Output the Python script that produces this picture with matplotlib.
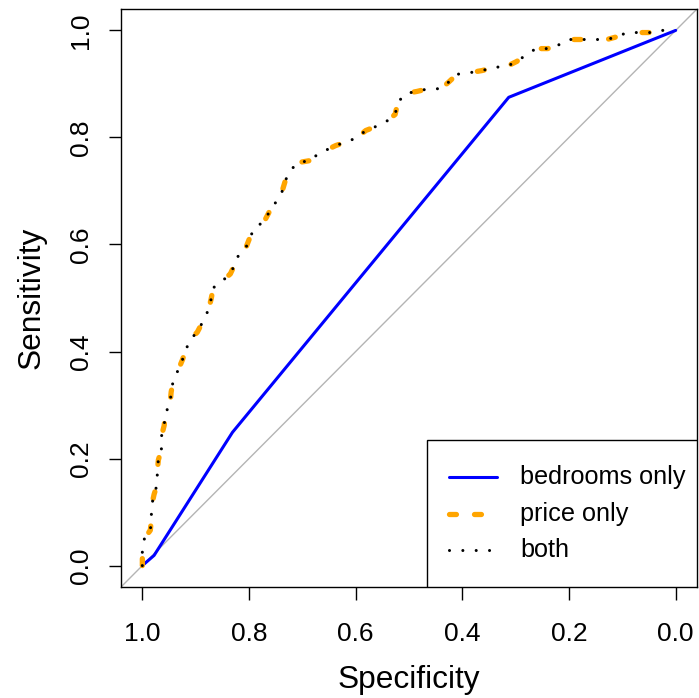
import matplotlib
matplotlib.use("Agg")
import matplotlib.pyplot as plt
from matplotlib.patches import Rectangle

plt.rcParams['font.family'] = ['Liberation Sans', 'DejaVu Sans']
plt.rcParams['lines.scale_dashes'] = False

# ROC curves (specificity, sensitivity)
bed_spec = [1.000, 0.978, 0.831, 0.313, 0.0]
bed_sens = [0.000, 0.019, 0.249, 0.875, 1.0]

price_spec = [1.000, 1.000, 0.996, 0.985, 0.983, 0.983, 0.978, 0.972, 0.972, 0.970,
              0.964, 0.964, 0.959, 0.957, 0.948, 0.946, 0.942, 0.933, 0.925, 0.918,
              0.910, 0.897, 0.886, 0.876, 0.871, 0.867, 0.850, 0.835, 0.828, 0.820,
              0.805, 0.798, 0.788, 0.772, 0.762, 0.749, 0.738, 0.732, 0.723, 0.708,
              0.684, 0.670, 0.654, 0.637, 0.616, 0.597, 0.581, 0.558, 0.541, 0.526,
              0.521, 0.507, 0.485, 0.464, 0.440, 0.425, 0.410, 0.386, 0.363, 0.339,
              0.316, 0.298, 0.279, 0.262, 0.240, 0.221, 0.202, 0.178, 0.154, 0.129,
              0.107, 0.092, 0.067, 0.043, 0.026, 0.0]
price_sens = [0.000, 0.028, 0.051, 0.066, 0.086, 0.110, 0.133, 0.152, 0.176, 0.197,
              0.219, 0.242, 0.262, 0.285, 0.301, 0.324, 0.346, 0.365, 0.384, 0.404,
              0.423, 0.436, 0.457, 0.478, 0.498, 0.519, 0.532, 0.545, 0.560, 0.579,
              0.596, 0.614, 0.633, 0.642, 0.661, 0.680, 0.699, 0.719, 0.738, 0.753,
              0.757, 0.770, 0.777, 0.785, 0.792, 0.800, 0.813, 0.822, 0.831, 0.843,
              0.865, 0.882, 0.886, 0.891, 0.891, 0.904, 0.918, 0.921, 0.925, 0.931,
              0.933, 0.942, 0.955, 0.966, 0.966, 0.972, 0.983, 0.983, 0.983, 0.983,
              0.989, 0.996, 0.996, 0.996, 1.000, 1.0]

both_spec = list(price_spec)
both_sens = list(price_sens)

labels = ["bedrooms only", "price only", "both"]
ticks = [1.0, 0.8, 0.6, 0.4, 0.2, 0.0]

blue_kw = dict(color='#0000ff', lw=2.2, solid_capstyle='round')
orange_kw = dict(color='#ffa500', lw=3.8, dash_capstyle='round')
black_kw = dict(color='black', lw=2.2, dashes=(0.01, 9.6), dash_capstyle='round')

fig = plt.figure(figsize=(6.99, 6.98), dpi=100)
ax = fig.add_axes([121/699, 1 - 587/698, 576/699, 578/698])

ax.axline((1, 0), (0, 1), color='#b4b4b4', lw=1)
ax.plot(bed_spec, bed_sens, **blue_kw)
# the real curve is a fine staircase, so its dashes look sparser than in the key
ax.plot(price_spec, price_sens, dashes=(5, 20), **orange_kw)
ax.plot(both_spec, both_sens, **black_kw)

ax.set_xlim(1.04, -0.04)
ax.set_ylim(-0.04, 1.04)
ax.set_xticks(ticks)
ax.set_yticks(ticks)
ax.set_xticklabels([f"{t:.1f}" for t in ticks])
ax.set_yticklabels([f"{t:.1f}" for t in ticks], rotation=90, va='center')
ax.tick_params(direction='out', length=9, width=1, labelsize=19)
ax.tick_params(axis='x', pad=16)
ax.tick_params(axis='y', pad=11)
ax.set_xlabel("Specificity", fontsize=22.8, labelpad=14)
ax.set_ylabel("Sensitivity", fontsize=22.8, labelpad=16)
for s in ax.spines.values():
    s.set_linewidth(1)

# legend box drawn by hand, R style
ax.add_patch(Rectangle((0.531, 0), 0.469, 0.254, transform=ax.transAxes,
                       facecolor='white', edgecolor='black', lw=1, zorder=5))
rows = [0.190, 0.126, 0.064]
key_styles = [blue_kw, dict(orange_kw, dashes=(5, 13)), black_kw]
for y, lab, kw in zip(rows, labels, key_styles):
    ax.plot([0.569, 0.653], [y, y], transform=ax.transAxes, zorder=6, **kw)
    ax.text(0.693, y, lab, transform=ax.transAxes, fontsize=18.2, va='center', zorder=6)

fig.savefig("out.png", dpi=100)
